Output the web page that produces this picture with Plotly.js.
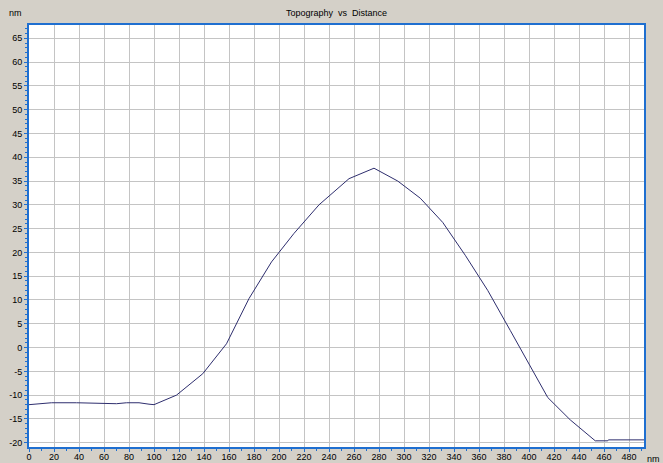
<!DOCTYPE html>
<html>
<head>
<meta charset="utf-8">
<script src="https://cdn.plot.ly/plotly-3.0.1.min.js"></script>
<style>html,body{margin:0;padding:0;background:#d4d0c8;}#chart{width:663px;height:463px;}</style>
</head>
<body>
<div id="chart"></div>
<script>
const distance = [0, 8, 18, 38, 58, 70, 78, 88, 96, 100, 118, 139, 158, 176, 194, 212, 232, 256, 276, 295, 313, 331, 349, 367, 385, 403, 415, 433, 453, 463, 463.5, 492];
const topography = [-12, -11.8, -11.6, -11.6, -11.8, -11.8, -11.6, -11.6, -11.9, -12, -10, -5.5, 0.8, 10.3, 18, 24, 30, 35.5, 37.7, 35, 31.4, 26.3, 19.4, 12, 3.6, -4.8, -10.5, -15.2, -19.6, -19.6, -19.4, -19.4];
const xTicks = [0,20,40,60,80,100,120,140,160,180,200,220,240,260,280,300,320,340,360,380,400,420,440,460,480];
const yTicks = [-20,-15,-10,-5,0,5,10,15,20,25,30,35,40,45,50,55,60,65];
const titleText = 'Topography&nbsp;&nbsp;vs&nbsp;&nbsp;Distance';
const unitY = 'nm';
const unitX = 'nm';

const font = {family: 'Liberation Sans, Arial, sans-serif', size: 9, color: '#000'};
const trace = {
  x: distance, y: topography, type: 'scatter', mode: 'lines',
  line: {color: '#2e2e6e', width: 1}, hoverinfo: 'none'
};
const axisCommon = {
  showgrid: true, gridcolor: '#c4c4c4', gridwidth: 1,
  zeroline: false, showline: true, linecolor: '#1f6fd0', linewidth: 2, mirror: true,
  ticks: 'outside', ticklen: 3, tickcolor: '#1f6fd0', tickwidth: 1,
  tickfont: font
};
const layout = {
  width: 663, height: 463,
  paper_bgcolor: '#d4d0c8', plot_bgcolor: '#ffffff',
  margin: {l: 29, r: 19, t: 25, b: 16},
  showlegend: false,
  title: {text: titleText, font: font, x: 0.5, xref: 'paper', y: 0.978, yanchor: 'top'},
  xaxis: Object.assign({}, axisCommon, {
    range: [0, 492], tickmode: 'array', tickvals: xTicks, ticktext: xTicks.map(String),
    ticklabelstandoff: -3,
    minor: {ticks: 'outside', ticklen: 2, tickcolor: '#1f6fd0', showgrid: false, dtick: 10}
  }),
  yaxis: Object.assign({}, axisCommon, {
    range: [-20.9, 67.8], tickmode: 'array', tickvals: yTicks, ticktext: yTicks.map(String),
    minor: {ticks: 'outside', ticklen: 2, tickcolor: '#1f6fd0', showgrid: false, dtick: 1}
  }),
  annotations: [
    {text: unitY, xref: 'paper', yref: 'paper', x: -0.022, y: 1.0, yshift: 12, showarrow: false, font: font, xanchor: 'center', yanchor: 'middle'},
    {text: unitX, xref: 'paper', yref: 'paper', x: 1.0, y: 0, xshift: 9, yshift: -12, showarrow: false, font: font, xanchor: 'center', yanchor: 'middle'}
  ]
};
Plotly.newPlot('chart', [trace], layout, {staticPlot: true, displayModeBar: false});
</script>
</body>
</html>
